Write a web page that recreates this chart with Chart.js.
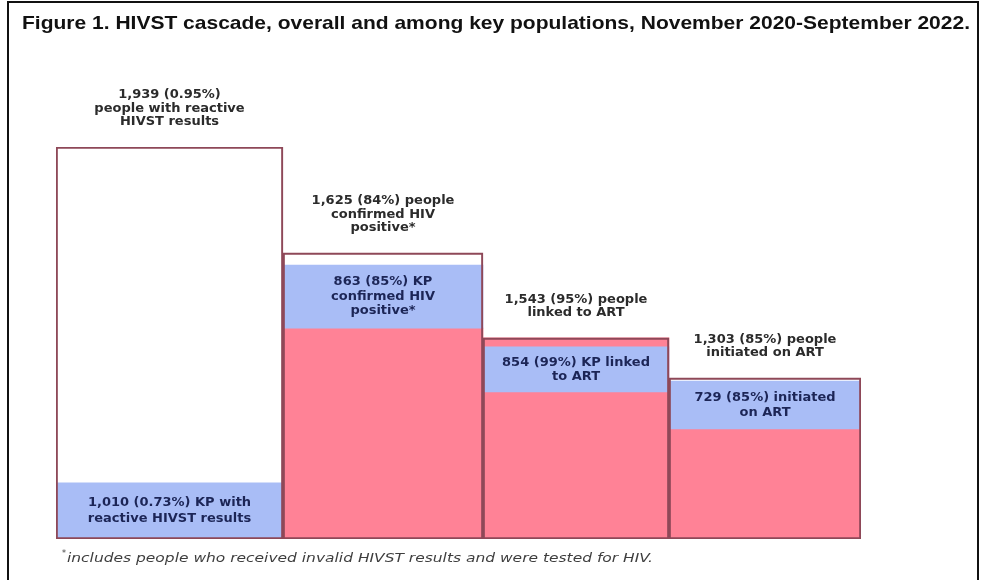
<!DOCTYPE html>
<html>
<head>
<meta charset="utf-8">
<script src="https://cdn.jsdelivr.net/npm/chart.js@4.4.1/dist/chart.umd.min.js"></script>
<style>
  html, body { margin: 0; padding: 0; background: #fff; }
  #wrap { position: relative; width: 986px; height: 580px; }
</style>
</head>
<body>
<div id="wrap"><canvas id="cascade" width="986" height="580"></canvas></div>
<script>
// cascade steps
const steps = ['Reactive HIVST', 'Confirmed HIV positive', 'Linked to ART', 'Initiated on ART'];

// overall
const overallCount = [1939, 1625, 1543, 1303];
const overallPct = ['0.95%', '84%', '95%', '85%'];

// key populations (KP)
const kpCount = [1010, 863, 854, 729];
const kpPct = ['0.73%', '85%', '99%', '85%'];

// heights as drawn in the figure (it is not to scale), % of the first step
const stepHeight = [100, 73.0, 51.3, 41.1];
const fillHeight = [0, 53.8, 51.3, 28.1];
const kpBandLow = [0, 53.8, 37.5, 28.1];
const kpBandHigh = [14.3, 69.9, 49.0, 40.3];

// label wording, '\n' breaks a line
const overallWords = ['\npeople with reactive\nHIVST results', ' people\nconfirmed HIV\npositive*', ' people\nlinked to ART', ' people\ninitiated on ART'];
const kpWords = [' KP with\nreactive HIVST results', ' KP\nconfirmed HIV\npositive*', ' KP linked\nto ART', ' initiated\non ART'];

// ---- layout ----
const stepWidths = [227, 200, 186, 192];   // on-screen width of each step, px
const edges = [0];
stepWidths.forEach(w => edges.push(edges[edges.length - 1] + w));
// bar centres for barThickness 'flex' (last one is an empty spacer so the 4th bar ends on its edge)
const centers = [stepWidths[0] / 2];
for (let i = 1; i < edges.length; i++) centers.push(2 * edges[i] - centers[i - 1]);

const zeros = steps.map(() => 0);
const rows = (lo, hi) => centers.map((x, i) => ({ x, y: i < steps.length ? [lo[i], hi[i]] : null }));
const fmt = n => n.toLocaleString('en-US');

const barOpts = { barThickness: 'flex', barPercentage: 1, categoryPercentage: 1 };

const textPlugin = {
  id: 'cascadeText',
  beforeDraw(chart) {
    const ctx = chart.ctx;
    ctx.save();
    ctx.fillStyle = '#fff';
    ctx.fillRect(0, 0, chart.width, chart.height);
    ctx.restore();
  },
  afterDatasetsDraw(chart) {
    const ctx = chart.ctx;
    const outline = chart.getDatasetMeta(0).data;
    const band = chart.getDatasetMeta(1).data;
    ctx.save();
    ctx.textAlign = 'center';
    ctx.textBaseline = 'middle';
    ctx.font = 'bold 13px "DejaVu Sans"';
    steps.forEach((s, i) => {
      const bar = outline[i];
      const lines = (fmt(overallCount[i]) + ' (' + overallPct[i] + ')' + overallWords[i]).split('\n');
      ctx.fillStyle = '#2b2b2b';
      lines.forEach((t, j) => ctx.fillText(t, bar.x, bar.y - 25 - (lines.length - 1 - j) * 13.5));

      const b = band[i];
      const mid = (b.y + b.base) / 2;
      const kl = (fmt(kpCount[i]) + ' (' + kpPct[i] + ')' + kpWords[i]).split('\n');
      ctx.fillStyle = '#1c2556';
      const lh = i === 0 ? 16 : 14.5;
      kl.forEach((t, j) => ctx.fillText(t, b.x, mid + (j - (kl.length - 1) / 2) * lh));
    });
    ctx.restore();
  },
  afterDraw(chart) {
    const ctx = chart.ctx;
    ctx.save();
    // frame
    ctx.strokeStyle = '#111';
    ctx.lineWidth = 2;
    ctx.beginPath();
    ctx.moveTo(8, 580); ctx.lineTo(8, 2); ctx.lineTo(978, 2); ctx.lineTo(978, 580);
    ctx.stroke();

    // title
    const title = 'Figure 1. HIVST cascade, overall and among key populations, November 2020-September 2022.';
    ctx.font = 'bold 19px "Liberation Sans Narrow", "Liberation Sans"';
    ctx.fillStyle = '#111';
    ctx.textBaseline = 'alphabetic';
    const tw = ctx.measureText(title).width;
    ctx.save();
    ctx.translate(22, 29);
    ctx.scale(948 / tw, 1);
    ctx.fillText(title, 0, 0);
    ctx.restore();

    // footnote
    const note = 'includes people who received invalid HIVST results and were tested for HIV.';
    ctx.fillStyle = '#3e3e3e';
    ctx.font = '8px "DejaVu Sans"';
    ctx.fillText('*', 62, 556);
    ctx.font = 'oblique 12.5px "DejaVu Sans"';
    const nw = ctx.measureText(note).width;
    ctx.save();
    ctx.translate(67, 562);
    ctx.scale(586 / nw, 1);
    ctx.fillText(note, 0, 0);
    ctx.restore();
    ctx.restore();
  }
};

new Chart(document.getElementById('cascade'), {
  type: 'bar',
  data: {
    datasets: [
      { label: 'Overall', data: rows(zeros, stepHeight), backgroundColor: 'rgba(0,0,0,0)',
        borderColor: '#8e4858', borderWidth: 1.5, borderSkipped: false, ...barOpts },
      { label: 'KP', data: rows(kpBandLow, kpBandHigh), backgroundColor: '#a9bdf6', borderWidth: 0, ...barOpts },
      { label: 'Fill', data: rows(zeros, fillHeight), backgroundColor: '#ff8296', borderWidth: 0, ...barOpts }
    ]
  },
  options: {
    responsive: false,
    animation: false,
    layout: { padding: { left: 56, right: 986 - 56 - edges[edges.length - 1], top: 147, bottom: 41 } },
    scales: {
      x: { type: 'linear', min: 0, max: edges[edges.length - 1], offset: false, stacked: true, display: false },
      y: { min: 0, max: 100, stacked: false, display: false }
    },
    plugins: { legend: { display: false }, tooltip: { enabled: false } }
  },
  plugins: [textPlugin]
});
</script>
</body>
</html>
